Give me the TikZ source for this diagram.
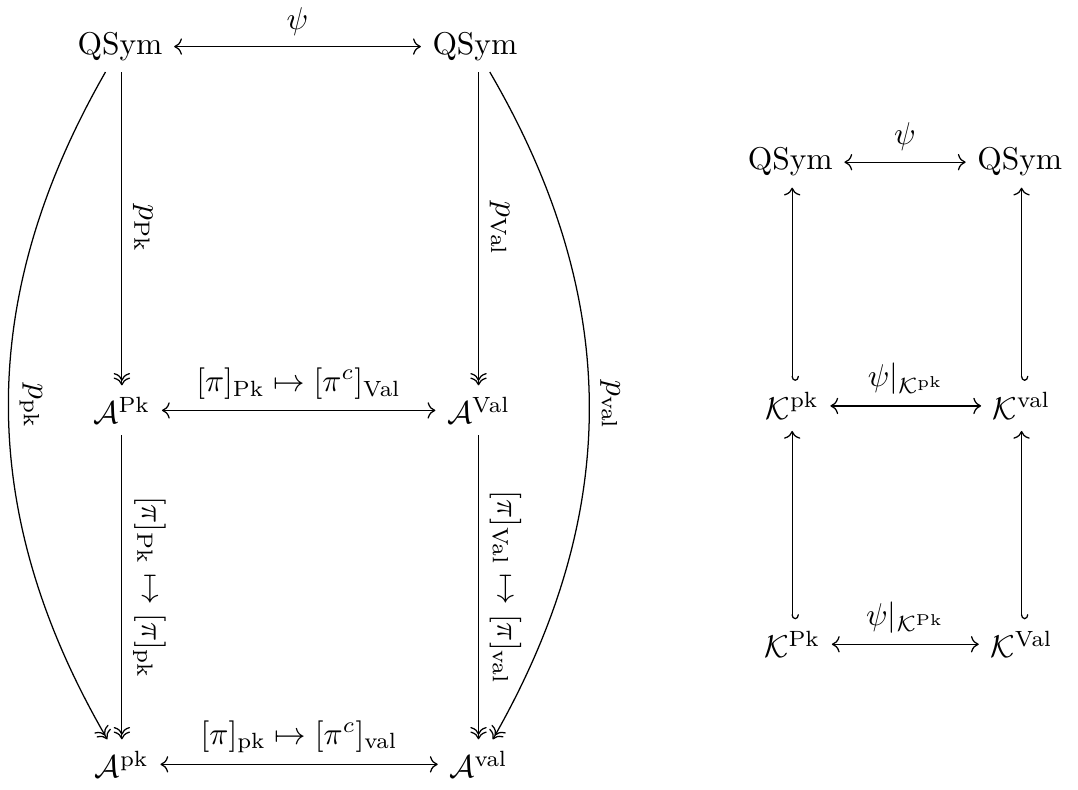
\documentclass[tikz,border=0pt]{standalone}
\usetikzlibrary{cd}

\begin{document}
\begin{tikzpicture}[
    obj/.style={inner sep=3.5pt},
    iso/.style={cm to-cm to},
    surj/.style={-cm double to},
    incl/.style={cm left hook-cm to}
]
\useasboundingbox (0,0) rectangle (12.03,8.81);

% left square: QSym, A^Pk / A^Val, A^pk / A^val
\node[obj] (qs1) at (1.34, 8.29) {$\mathrm{QSym}$};
\node[obj] (qs2) at (5.30, 8.29) {$\mathrm{QSym}$};
\node[obj] (aPk) at (1.36, 4.23) {$\mathcal{A}^{\mathrm{Pk}}$};
\node[obj] (aVal) at (5.34, 4.23) {$\mathcal{A}^{\mathrm{Val}}$};
\node[obj] (apk) at (1.36, 0.28) {$\mathcal{A}^{\mathrm{pk}}$};
\node[obj] (aval) at (5.34, 0.28) {$\mathcal{A}^{\mathrm{val}}$};

% right square: QSym, K^pk / K^val, K^Pk / K^Val
\node[obj] (qs3) at (8.82, 7.00) {$\mathrm{QSym}$};
\node[obj] (qs4) at (11.38, 7.00) {$\mathrm{QSym}$};
\node[obj] (kpk) at (8.84, 4.28) {$\mathcal{K}^{\mathrm{pk}}$};
\node[obj] (kval) at (11.40, 4.28) {$\mathcal{K}^{\mathrm{val}}$};
\node[obj] (kPk) at (8.84, 1.62) {$\mathcal{K}^{\mathrm{Pk}}$};
\node[obj] (kVal) at (11.40, 1.62) {$\mathcal{K}^{\mathrm{Val}}$};

% Arrows, left
\draw[iso] (qs1) -- node[above] {$\psi$} (qs2);
\draw[iso] (aPk) -- node[above] {$[\pi]_{\mathrm{Pk}} \mapsto [\pi^c]_{\mathrm{Val}}$} (aVal);
\draw[iso] (apk) -- node[above] {$[\pi]_{\mathrm{pk}} \mapsto [\pi^c]_{\mathrm{val}}$} (aval);
\draw[surj] (qs1.south -| aPk) -- node[above, sloped] {$p_{\mathrm{Pk}}$} (aPk);
\draw[surj] (qs2.south -| aVal) -- node[above, sloped] {$p_{\mathrm{Val}}$} (aVal);
\draw[surj] (aPk) -- node[above, sloped] {$[\pi]_{\mathrm{Pk}} \mapsto [\pi]_{\mathrm{pk}}$} (apk);
\draw[surj] (aVal) -- node[above, sloped] {$[\pi]_{\mathrm{Val}} \mapsto [\pi]_{\mathrm{val}}$} (aval);
\draw[surj] (qs1) to[bend right=30] node[above, sloped] {$p_{\mathrm{pk}}$} (apk);
\draw[surj] (qs2) to[bend left=30] node[above, sloped] {$p_{\mathrm{val}}$} (aval);

% Arrows, right
\draw[iso] (qs3) -- node[above] {$\psi$} (qs4);
\draw[iso] (kpk) -- node[above] {$\psi|_{\mathcal{K}^{\mathrm{pk}}}$} (kval);
\draw[iso] (kPk) -- node[above] {$\psi|_{\mathcal{K}^{\mathrm{Pk}}}$} (kVal);
\draw[incl] (kpk) -- (kpk |- qs3.south);
\draw[incl] (kval) -- (kval |- qs4.south);
\draw[incl] (kPk) -- (kpk);
\draw[incl] (kVal) -- (kval);
\end{tikzpicture}
\end{document}
